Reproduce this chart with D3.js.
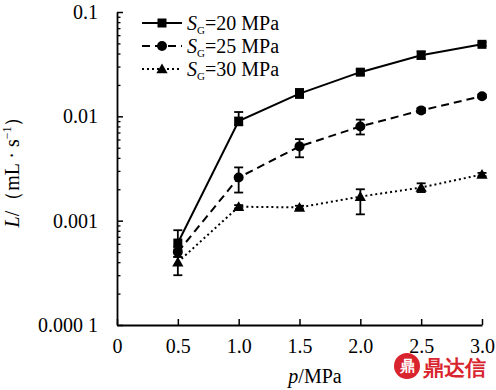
<!DOCTYPE html>
<html>
<head>
<meta charset="utf-8">
<script src="https://cdn.jsdelivr.net/npm/d3@7"></script>
<style>
  body { margin: 0; background: #fff; }
  text { font-family: "Liberation Serif", "Times New Roman", serif; }
</style>
</head>
<body>
<div class="chart"></div>
<script>
// data
var pressures = [0.5, 1.0, 1.5, 2.0, 2.5, 3.0];
var s20 = [0.00061, 0.0090, 0.0165, 0.0265, 0.0385, 0.049];
var s20ErrUp = [0.00020, 0.0020, 0.0018, 0.0015, 0.0035, 0.0020];
var s20ErrDown = [0.00008, 0.0008, 0.0015, 0.0015, 0.0030, 0.0015];
var s25 = [0.00050, 0.00259, 0.00515, 0.0080, 0.0114, 0.0156];
var s25ErrUp = [0.00006, 0.00065, 0.0009, 0.0013, 0.0006, 0.0006];
var s25ErrDown = [0.00005, 0.00073, 0.0011, 0.0013, 0.0006, 0.0006];
var s30 = [0.00040, 0.00136, 0.00134, 0.0017, 0.00208, 0.00277];
var s30ErrUp = [0.00005, 0.00005, 0.00005, 0.0003, 0.0002, 0.0001];
var s30ErrDown = [0.00010, 0.00005, 0.00005, 0.00055, 0.0002, 0.0001];
var seriesNames = ["20", "25", "30"];
var xTicks = [0, 0.5, 1.0, 1.5, 2.0, 2.5, 3.0];
var xTickLabels = ["0", "0.5", "1.0", "1.5", "2.0", "2.5", "3.0"];
var yTicks = [0.0001, 0.001, 0.01, 0.1];
var yTickLabels = ["0.000 1", "0.001", "0.01", "0.1"];

var svgWidth = 496;
var svgHeight = 390;

var svg = d3.select(".chart")
    .append("svg")
    .attr("width", svgWidth)
    .attr("height", svgHeight);

var xScale = d3.scaleLinear()
    .domain([0, 3])
    .range([117, 482]);

var yScale = d3.scaleLog()
    .domain([0.0001, 0.1])
    .range([325, 12]);

// minor ticks on the log axis
var minorTicks = [];
[0.0001, 0.001, 0.01].forEach(function (dec) {
    for (var k = 2; k <= 9; k++) minorTicks.push(dec * k);
});

svg.append("g")
    .attr("transform", "translate(117,0)")
    .call(d3.axisLeft(yScale).tickValues(minorTicks).tickSize(-3.5).tickFormat(""))
    .call(g => g.select(".domain").remove())
    .selectAll("line").attr("stroke-width", 1.3);

var yAxis = svg.append("g")
    .attr("transform", "translate(117,0)")
    .call(d3.axisLeft(yScale)
        .tickValues(yTicks)
        .tickSizeInner(-6)
        .tickSizeOuter(0)
        .tickPadding(19)
        .tickFormat((d, i) => yTickLabels[i]));
yAxis.selectAll("text").attr("font-size", "20px").attr("font-family", "Liberation Serif").attr("fill", "#000");
yAxis.selectAll("line").attr("stroke-width", 1.5);
yAxis.select(".domain").attr("stroke-width", 1.8);

var xAxis = svg.append("g")
    .attr("transform", "translate(0,325)")
    .call(d3.axisBottom(xScale)
        .tickValues(xTicks)
        .tickSizeInner(-6)
        .tickSizeOuter(0)
        .tickPadding(14)
        .tickFormat((d, i) => xTickLabels[i]));
xAxis.selectAll("text").attr("font-size", "20px").attr("font-family", "Liberation Serif").attr("fill", "#000");
xAxis.selectAll("line").attr("stroke-width", 1.5);
xAxis.select(".domain").attr("stroke-width", 1.8);

// series
var series = [
    { name: seriesNames[0], vals: s20, up: s20ErrUp, down: s20ErrDown, dash: null, marker: "square" },
    { name: seriesNames[1], vals: s25, up: s25ErrUp, down: s25ErrDown, dash: "8,5", marker: "circle" },
    { name: seriesNames[2], vals: s30, up: s30ErrUp, down: s30ErrDown, dash: "2,3", marker: "triangle" }
];

var line = d3.line()
    .x(d => xScale(d[0]))
    .y(d => yScale(d[1]));

function drawMarker(g, type, x, y) {
    if (type === "square") {
        g.append("rect").attr("x", x - 4.5).attr("y", y - 4.5)
            .attr("width", 9).attr("height", 9).attr("fill", "#000");
    } else if (type === "circle") {
        g.append("circle").attr("cx", x).attr("cy", y).attr("r", 5).attr("fill", "#000");
    } else {
        g.append("path")
            .attr("d", d3.symbol(d3.symbolTriangle, 55)())
            .attr("transform", `translate(${x},${y + 1})`)
            .attr("fill", "#000");
    }
}

series.forEach(function (s) {
    var pts = pressures.map((p, i) => [p, s.vals[i]]);
    var g = svg.append("g");

    g.append("path")
        .datum(pts)
        .attr("d", line)
        .attr("fill", "none")
        .attr("stroke", "#000")
        .attr("stroke-width", 2)
        .attr("stroke-dasharray", s.dash);

    pressures.forEach(function (p, i) {
        var x = xScale(p);
        var yTop = yScale(s.vals[i] + s.up[i]);
        var yBot = yScale(s.vals[i] - s.down[i]);
        g.append("line").attr("x1", x).attr("x2", x).attr("y1", yTop).attr("y2", yBot)
            .attr("stroke", "#000").attr("stroke-width", 1.8);
        [yTop, yBot].forEach(function (yy) {
            g.append("line").attr("x1", x - 4.5).attr("x2", x + 4.5).attr("y1", yy).attr("y2", yy)
                .attr("stroke", "#000").attr("stroke-width", 1.8);
        });
        drawMarker(g, s.marker, x, yScale(s.vals[i]));
    });
});

// legend
var legend = svg.append("g");
series.forEach(function (s, i) {
    var ly = 23 + i * 23;
    legend.append("line")
        .attr("x1", 142).attr("x2", 182).attr("y1", ly).attr("y2", ly)
        .attr("stroke", "#000").attr("stroke-width", 2)
        .attr("stroke-dasharray", s.dash);
    drawMarker(legend, s.marker, 162, ly);
    var t = legend.append("text")
        .attr("x", 187).attr("y", ly + 7)
        .attr("font-size", "20px").attr("fill", "#000");
    t.append("tspan").attr("font-style", "italic").text("S");
    t.append("tspan").attr("font-size", "11px").attr("dy", 4).text("G");
    t.append("tspan").attr("dy", -4).text("=" + s.name + " MPa");
});

// axis titles
svg.append("text")
    .attr("x", 315).attr("y", 383)
    .attr("text-anchor", "middle")
    .attr("font-size", "20px")
    .html('<tspan font-style="italic">p</tspan>/MPa');

svg.append("text")
    .attr("transform", "translate(19,167) rotate(-90)")
    .attr("text-anchor", "middle")
    .attr("font-size", "20px")
    .html('<tspan font-style="italic">L</tspan>/（mL · s<tspan font-size="12px" dy="-8">−1</tspan><tspan dy="8">）</tspan>');

// watermark
var wm = svg.append("g").attr("transform", "translate(407,366)");
wm.append("circle").attr("r", 13).attr("fill", "#d9232d");
wm.append("text").attr("text-anchor", "middle").attr("y", 5).attr("font-size", "15px")
    .attr("fill", "#fff").attr("font-family", "Noto Sans CJK SC").attr("font-weight", "bold").text("鼎");
svg.append("text")
    .attr("x", 423).attr("y", 375)
    .attr("font-family", "Noto Sans CJK SC")
    .attr("font-weight", "bold")
    .attr("font-size", "21px")
    .attr("fill", "#d9232d")
    .text("鼎达信");
</script>
</body>
</html>
